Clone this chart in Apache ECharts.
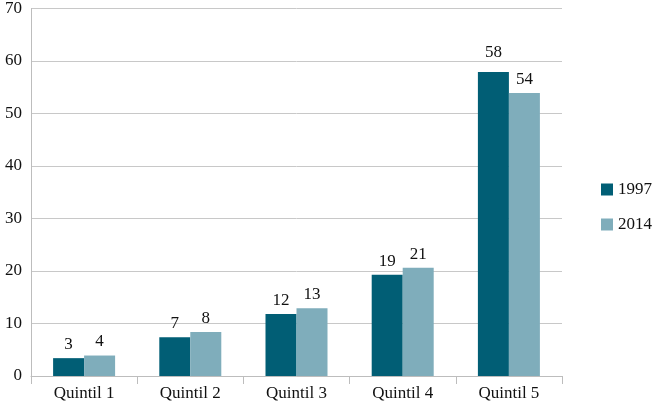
<!DOCTYPE html>
<html><head><meta charset="utf-8">
<script src="https://cdn.jsdelivr.net/npm/echarts@6/dist/echarts.min.js"></script>
<style>html,body{margin:0;padding:0;background:#fff}#c{width:654px;height:404px}</style>
</head><body><div id="c"></div>
<script>
const categories = ['Quintil 1','Quintil 2','Quintil 3','Quintil 4','Quintil 5'];
const values1997 = [3.4, 7.4, 11.8, 19.3, 57.9];
const values2014 = [3.9, 8.4, 12.9, 20.6, 53.9];
const yTicks = [0,10,20,30,40,50,60,70];
const F = 'Liberation Serif';
const chart = echarts.init(document.getElementById('c'), null, {renderer:'canvas'});
const lbl = {show:true, position:'top', distance:5, color:'#111', fontFamily:F, fontSize:17,
  formatter: p => Math.round(p.value)};
chart.setOption({
  animation:false,
  textStyle:{fontFamily:F},
  grid:{left:31, right:92, top:8, bottom:28, containLabel:false},
  legend:{orient:'vertical', left:596, top:176, itemWidth:12, itemHeight:12, itemGap:18,
    icon:'rect', textStyle:{fontFamily:F, fontSize:17, color:'#111'},
    data:['1997','2014']},
  xAxis:{type:'category', data:categories,
    axisLine:{lineStyle:{color:'#bdbdbd'}},
    axisTick:{show:true, length:8, lineStyle:{color:'#bdbdbd'}},
    axisLabel:{fontFamily:F, fontSize:17, color:'#111', margin:9}},
  yAxis:{type:'value', min:yTicks[0], max:yTicks[yTicks.length-1], interval:10,
    axisLine:{show:true, lineStyle:{color:'#bdbdbd'}},
    axisTick:{show:false},
    splitLine:{lineStyle:{color:'#c8c8c8'}},
    axisLabel:{fontFamily:F, fontSize:17, color:'#111', margin:9}},
  series:[
    {name:'1997', type:'bar', barWidth:31, barGap:'0%',
      data: values1997.map((v,i)=> i===4 ? {value:v, label:{distance:11}} : v),
      itemStyle:{color:'#015e75'}, label:lbl},
    {name:'2014', type:'bar', data:values2014, barWidth:31, barGap:'0%',
      itemStyle:{color:'#7fadbb'}, label:lbl}
  ]
});
</script></body></html>
